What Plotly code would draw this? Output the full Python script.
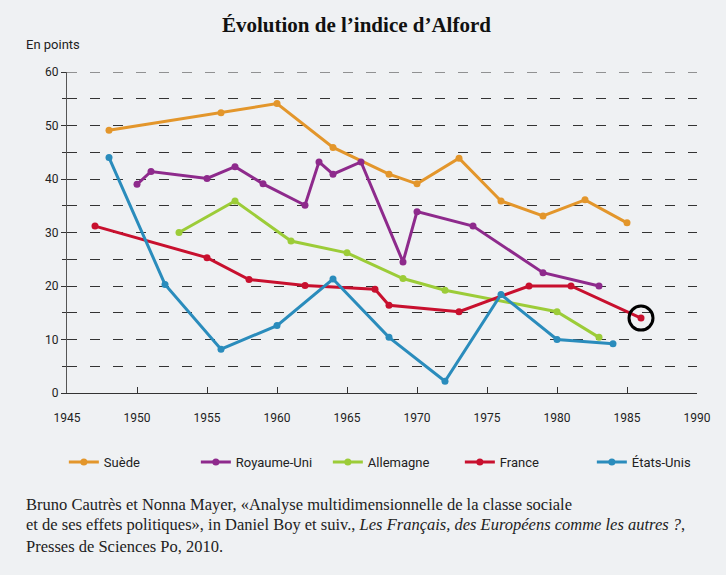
import plotly.graph_objects as go

# ---- data ----
suede_x = [1948, 1956, 1960, 1964, 1968, 1970, 1973, 1976, 1979, 1982, 1985]
suede_y = [49.1, 52.4, 54.1, 45.9, 40.9, 39.1, 43.9, 35.9, 33.1, 36.1, 31.8]

ru_x = [1950, 1951, 1955, 1957, 1959, 1962, 1963, 1964, 1966, 1969, 1970, 1974, 1979, 1983]
ru_y = [39.0, 41.4, 40.1, 42.3, 39.1, 35.1, 43.2, 40.9, 43.2, 24.5, 33.9, 31.2, 22.5, 20.0]

all_x = [1953, 1957, 1961, 1965, 1969, 1972, 1980, 1983]
all_y = [30.0, 35.9, 28.4, 26.2, 21.4, 19.2, 15.2, 10.4]

fr_x = [1947, 1955, 1958, 1962, 1967, 1968, 1973, 1978, 1981, 1986]
fr_y = [31.2, 25.3, 21.2, 20.1, 19.4, 16.4, 15.2, 20.0, 20.0, 14.0]

us_x = [1948, 1952, 1956, 1960, 1964, 1968, 1972, 1976, 1980, 1984]
us_y = [44.0, 20.3, 8.2, 12.6, 21.3, 10.4, 2.2, 18.4, 10.0, 9.2]

series = [
    ("Suède", suede_x, suede_y, "#e3962b"),
    ("Royaume-Uni", ru_x, ru_y, "#8e2a8c"),
    ("Allemagne", all_x, all_y, "#9ccc38"),
    ("France", fr_x, fr_y, "#c8102e"),
    ("États-Unis", us_x, us_y, "#2a8cbc"),
]

highlight_x = [1986]
highlight_y = [14.0]

x_ticks = [1945, 1950, 1955, 1960, 1965, 1970, 1975, 1980, 1985, 1990]
y_ticks = [0, 10, 20, 30, 40, 50, 60]

source_lines = [
    "Bruno Cautrès et Nonna Mayer, «Analyse multidimensionnelle de la classe sociale",
    "et de ses effets politiques», in Daniel Boy et suiv., <i>Les Français, des Européens comme les autres ?</i>,",
    "Presses de Sciences Po, 2010.",
]

fig = go.Figure()
for name, xs, ys, col in series:
    fig.add_trace(go.Scatter(
        x=xs, y=ys, name=name, mode="lines+markers",
        line=dict(color=col, width=3),
        marker=dict(color=col, size=7),
    ))

fig.add_trace(go.Scatter(
    x=highlight_x, y=highlight_y, mode="markers", showlegend=False,
    hoverinfo="skip",
    marker=dict(symbol="circle-open", size=24, color="black", line=dict(width=3, color="black")),
))

serif = "Liberation Serif, Times New Roman, serif"
bg = "#eff1f3"
grid_dash = "10px,13px"

annotations = [
    dict(text="<b>Évolution de l’indice d’Alford</b>", x=0.46, y=1.146,
         xref="paper", yref="paper", showarrow=False, xanchor="center", yanchor="middle",
         font=dict(family=serif, size=21, color="#111")),
    dict(text="En points", x=-0.068, y=1.085, xref="paper", yref="paper",
         showarrow=False, xanchor="left", yanchor="middle",
         font=dict(size=13, color="#222")),
]
for txt, yy in zip(source_lines, [-0.346, -0.411, -0.477]):
    annotations.append(dict(
        text=txt, x=-0.068, y=yy, xref="paper", yref="paper", showarrow=False,
        xanchor="left", yanchor="middle",
        font=dict(family=serif, size=16.5, color="#222")))

fig.update_layout(
    width=726, height=575,
    margin=dict(l=67, r=29, t=72, b=182),
    paper_bgcolor=bg, plot_bgcolor=bg,
    font=dict(family="Roboto, Open Sans, sans-serif", size=12, color="#222"),
    showlegend=True,
    legend=dict(
        orientation="h", x=-0.005, xanchor="left", y=-0.215, yanchor="middle",
        font=dict(size=13, color="#222"), bgcolor="rgba(0,0,0,0)",
        entrywidth=87, itemwidth=30,
    ),
    xaxis=dict(
        range=[1945, 1990], tickvals=x_ticks, ticktext=[str(v) for v in x_ticks],
        showgrid=False, zeroline=False,
        showline=True, linecolor="#333", linewidth=1,
        ticks="inside", ticklen=6, tickcolor="#333", tickwidth=1,
        ticklabelstandoff=14,
        tickfont=dict(size=12, color="#222"),
    ),
    yaxis=dict(
        range=[0, 60], tickvals=y_ticks, ticktext=[str(v) for v in y_ticks],
        showgrid=True, gridcolor="#333", griddash=grid_dash, gridwidth=1,
        zeroline=False,
        showline=True, linecolor="#555", linewidth=1,
        ticks="outside", ticklen=5, tickcolor="#333",
        tickfont=dict(size=12, color="#222"),
        minor=dict(dtick=5, tick0=0, showgrid=True, gridcolor="#333", griddash=grid_dash,
                   gridwidth=1, ticks="outside", ticklen=4, tickcolor="#333"),
    ),
    shapes=[
        dict(type="line", xref="paper", yref="y", x0=0, x1=1, y0=60, y1=60,
             line=dict(color="#333", width=1, dash=grid_dash), layer="below"),
    ],
    annotations=annotations,
)

fig.write_html("out.html")
